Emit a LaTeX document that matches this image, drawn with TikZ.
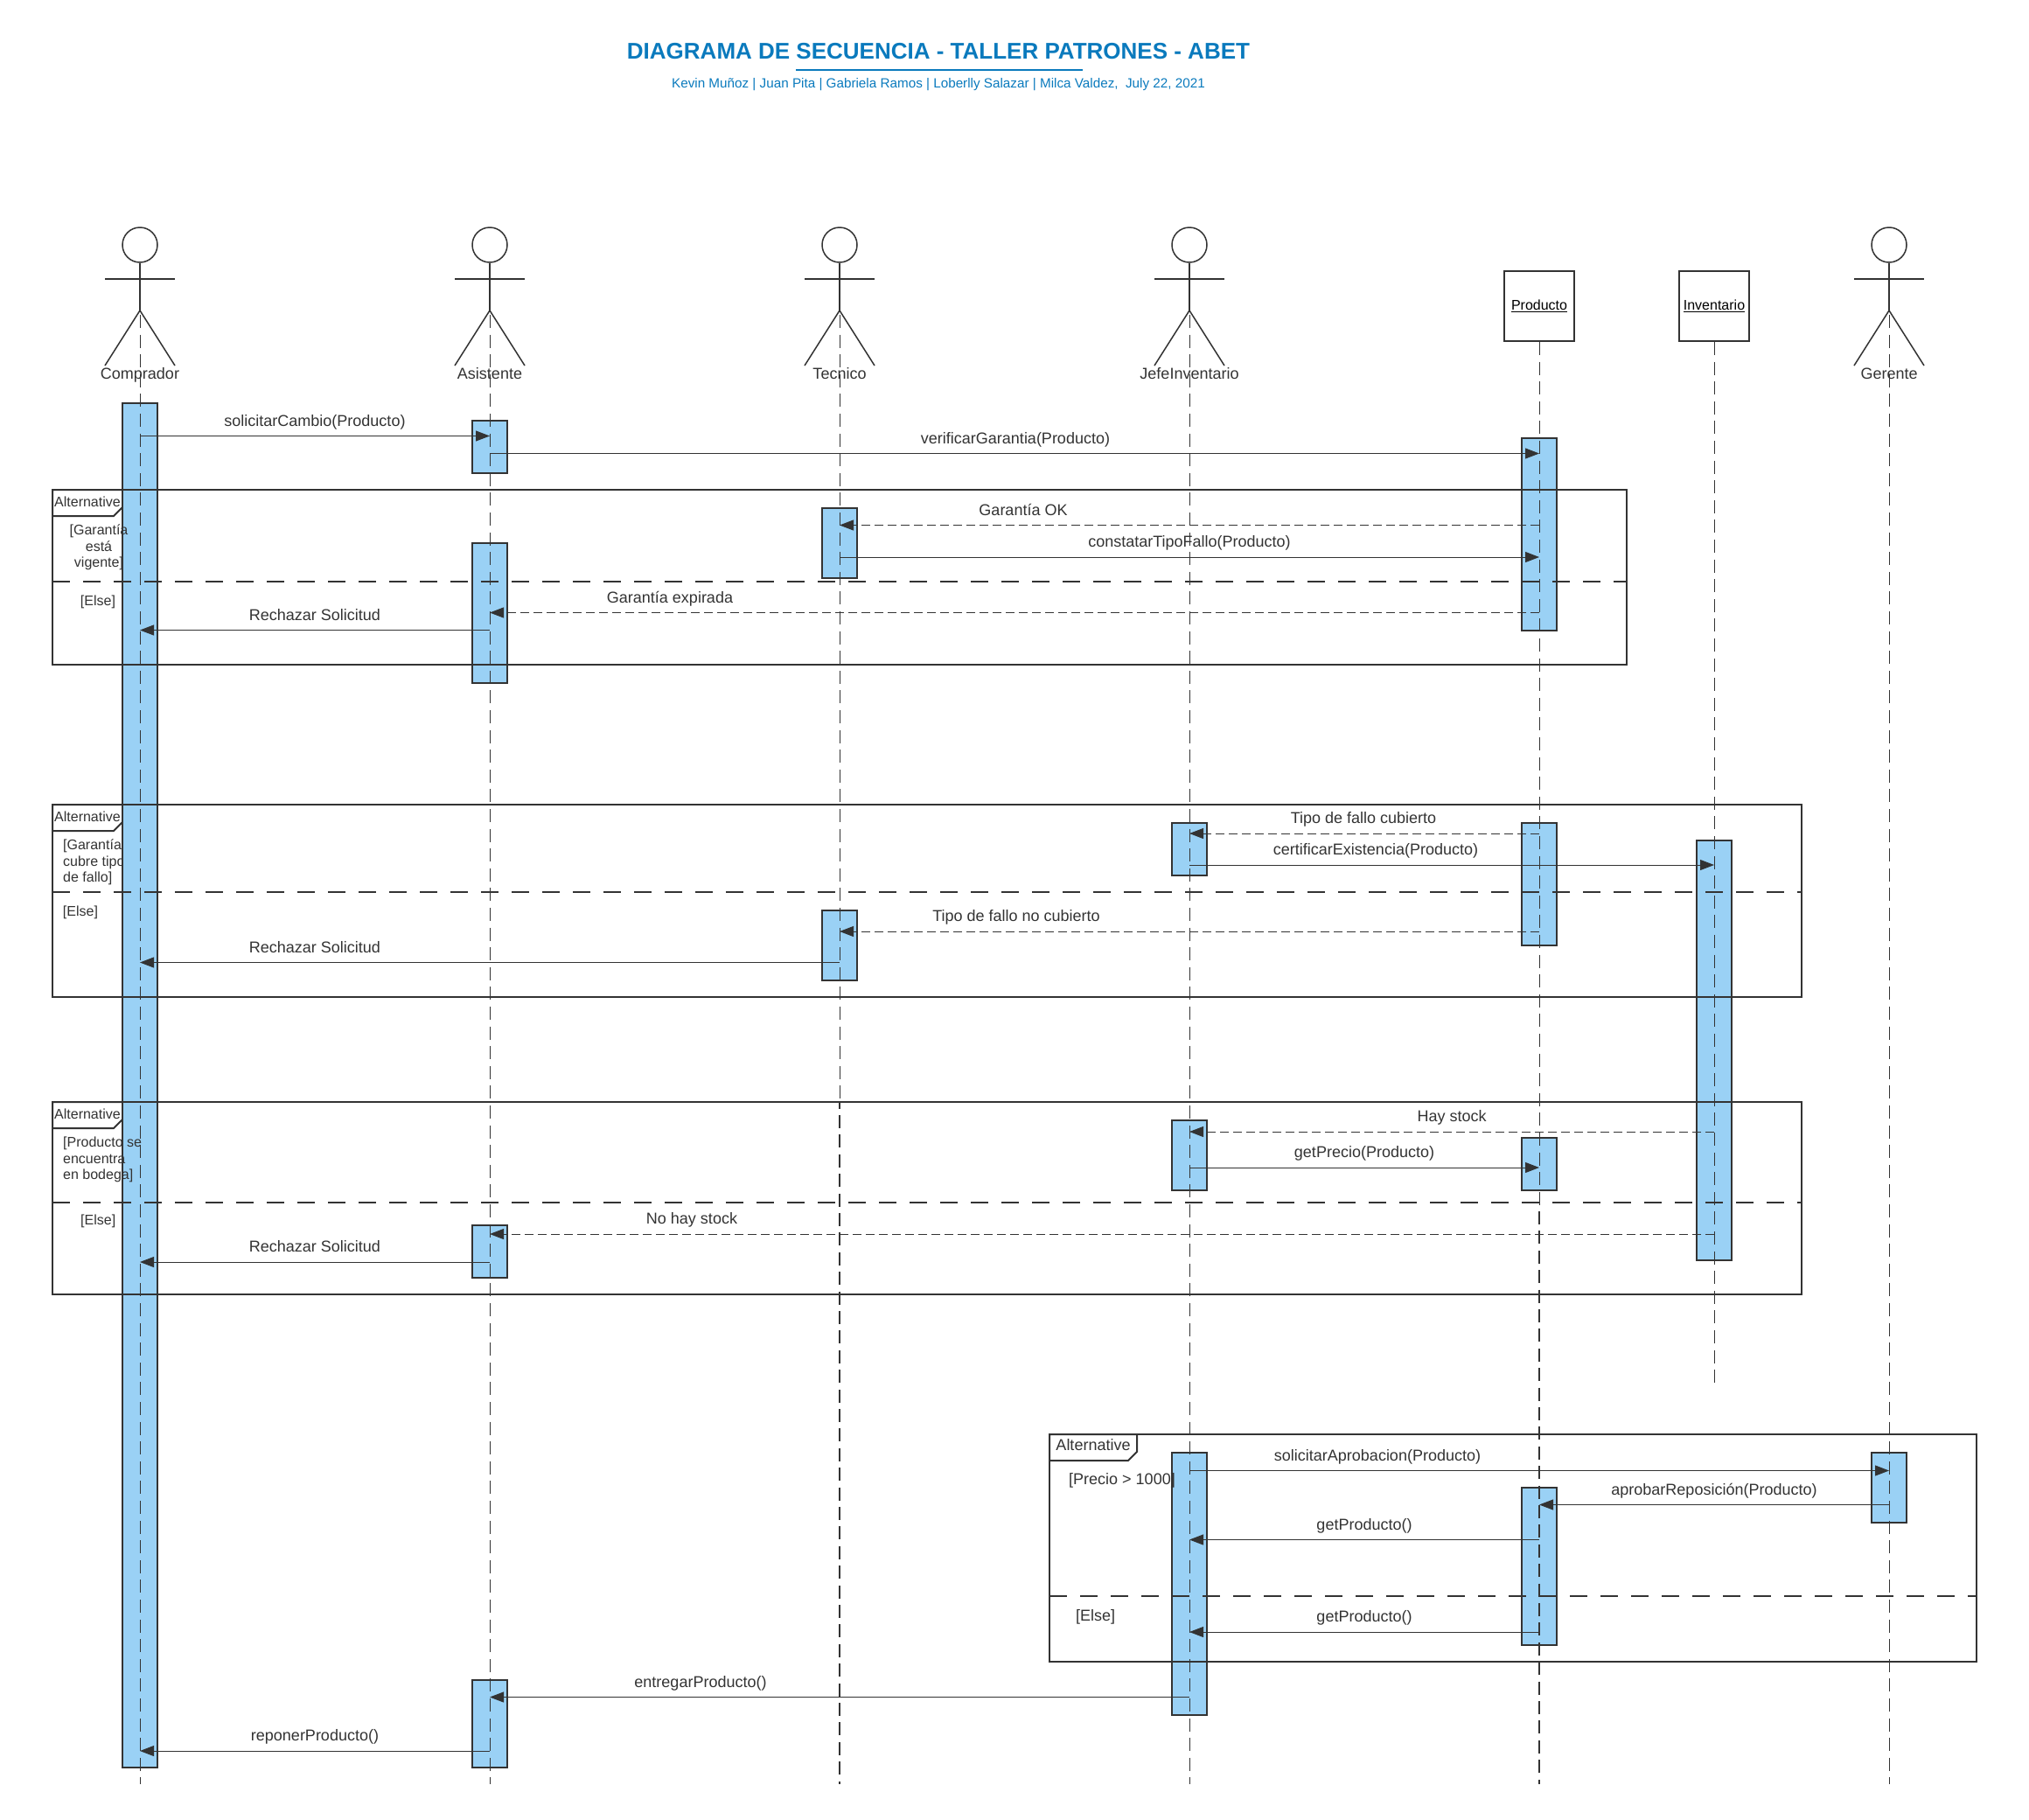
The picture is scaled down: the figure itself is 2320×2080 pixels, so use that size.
\documentclass[tikz,border=0pt]{standalone}
\usepackage{fontspec}
\setmainfont{Liberation Sans}
\usetikzlibrary{positioning, calc, arrows.meta}
\definecolor{ink}{HTML}{333333}
\definecolor{barfill}{HTML}{9AD1F5}
\definecolor{titleblue}{HTML}{0A7ABD}

\begin{document}
\begin{tikzpicture}[
    x=1pt, y=-1pt,
    >={Triangle[length=16pt,width=12pt]},
    every node/.style={text=ink, inner sep=0pt},
    figure/.style={draw=ink, line width=1.5pt},
    head/.style={figure, circle, minimum size=40pt},
    objbox/.style={draw=ink, line width=2pt, fill=white, minimum size=80pt, text=black, font=\fontsize{16}{18}\selectfont},
    namelabel/.style={font=\fontsize{18}{21}\selectfont, text height=13pt, text depth=4pt},
    lifeline/.style={draw=ink, line width=1pt, dash pattern=on 15pt off 7.6pt},
    lifelinebold/.style={draw=ink, line width=2pt, dash pattern=on 15pt off 7.4pt, dash phase=7.5pt},
    bar/.style={draw=ink, line width=2pt, fill=barfill, minimum width=40pt, anchor=north},
    frameline/.style={draw=ink, line width=2pt},
    framedash/.style={draw=ink, line width=2pt, dash pattern=on 20pt off 15pt},
    tab/.style={draw=ink, line width=2pt, fill=white},
    tablabel/.style={font=\fontsize{16}{18}\selectfont},
    guard/.style={font=\fontsize{16}{18.5}\selectfont},
    call/.style={draw=ink, line width=1pt, ->},
    reply/.style={draw=ink, line width=1pt, ->, dash pattern=on 10pt off 5pt},
    msglabel/.style={font=\fontsize{18}{21}\selectfont, text height=13pt, text depth=4pt}
]
\useasboundingbox (0,0) rectangle (2320,2080);

% titulo
\node[font=\bfseries\fontsize{26}{31}\selectfont, text=titleblue] (title) at (1073,59) {DIAGRAMA DE SECUENCIA - TALLER PATRONES - ABET};
\coordinate (ruleL) at (910,80);
\coordinate (ruleR) at (1238,80);
\draw[titleblue, line width=2pt] (ruleL) -- (ruleR);
\node[font=\fontsize{15.25}{18}\selectfont, text=titleblue] (subtitle) at (1073,96.5) {Kevin Muñoz | Juan Pita | Gabriela Ramos | Loberlly Salazar | Milca Valdez,\ \ July 22, 2021};

% actores
\foreach \n/\x/\t in {comprador/160/Comprador, asistente/560/Asistente, tecnico/960/Tecnico, jefe/1360/JefeInventario, gerente/2160/Gerente}{
    \node[head] (\n head) at (\x,280) {};
    \coordinate (\n hip) at (\x,355);
    \coordinate (\n) at (\x,360);
    \draw[figure] (\n head.south) -- (\n hip);
    \draw[figure] (\x-40,319) -- (\x+40,319);
    \draw[figure] (\x-40,418) -- (\n hip) -- (\x+40,418);
    \node[namelabel] (\n name) at (\x,428.5) {\t};
}

% objetos
\node[objbox] (producto) at (1760,350) {\raisebox{3pt}{\underline{Producto}}};
\node[objbox] (inventario) at (1960,350) {\raisebox{3pt}{\underline{Inventario}}};

% fragmentos, pestanas
\foreach \n/\l/\t/\w in {fa/60/560/80, fb/60/920/80, fc/60/1260/80, fd/1200/1640/100}{
    \draw[tab] (\l,\t) -- (\l+\w,\t) -- (\l+\w,\t+20) -- (\l+\w-10,\t+30) -- (\l,\t+30) -- cycle;
}
\node[guard, anchor=west, align=left] (guardB) at (72,986) {[Garantía\\cubre tipo\\de fallo]};

% barras de activacion
\foreach \n/\c/\t/\h in {
    ba/comprador/460/1560, bb/asistente/480/60, bc/asistente/620/160, bd/asistente/1400/60, be/asistente/1920/100,
    bf/tecnico/580/80, bg/tecnico/1040/80, bh/jefe/940/60, bi/jefe/1280/80, bj/jefe/1660/300,
    bk/producto/500/220, bl/producto/940/140, bm/producto/1300/60, bn/producto/1700/180,
    bo/inventario/960/480, bp/gerente/1660/80}{
    \node[bar, minimum height=\h pt] (\n) at (\c|-0,\t) {};
}

% marcos
\foreach \n/\l/\t/\r/\b/\d in {fa/60/560/1860/760/665, fb/60/920/2060/1140/1020, fc/60/1260/2060/1480/1375, fd/1200/1640/2260/1900/1825}{
    \coordinate (\n nw) at (\l,\t);
    \coordinate (\n se) at (\r,\b);
    \coordinate (\n dl) at (\l,\d);
    \coordinate (\n dr) at (\r,\d);
    \draw[frameline] (\n nw) rectangle (\n se);
    \draw[framedash] (\n dl) -- (\n dr);
}

% lineas de vida
\coordinate (compradorEnd) at (160,2040);
\coordinate (asistenteEnd) at (560,2040);
\coordinate (tecnicoMid) at (960,1260);
\coordinate (tecnicoEnd) at (960,2040);
\coordinate (jefeEnd) at (1360,2040);
\coordinate (productoMid) at (1760,1385);
\coordinate (productoEnd) at (1760,2040);
\coordinate (inventarioEnd) at (1960,1582);
\coordinate (gerenteEnd) at (2160,2040);
\draw[lifeline] (comprador) -- (compradorEnd);
\draw[lifeline] (asistente) -- (asistenteEnd);
\draw[lifeline] (tecnico) -- (tecnicoMid);
\draw[lifelinebold] (tecnicoMid) -- (tecnicoEnd);
\draw[lifeline] (jefe) -- (jefeEnd);
\draw[lifeline] (producto) -- (productoMid);
\draw[lifelinebold, dash phase=0pt] (productoMid) -- (productoEnd);
\draw[lifeline] (inventario) -- (inventarioEnd);
\draw[lifeline] (gerente) -- (gerenteEnd);

% mensajes
\foreach \n/\s/\a/\b/\y/\lx/\t in {
    ma/call/comprador/asistente/498.5/360/solicitarCambio(Producto),
    mb/call/asistente/producto/518.5/1161/verificarGarantia(Producto),
    mc/reply/producto/tecnico/600.5/1170/Garantía OK,
    md/call/tecnico/producto/637/1360/constatarTipoFallo(Producto),
    me/reply/producto/asistente/700.5/766/Garantía expirada,
    mf/call/asistente/comprador/720.5/360/Rechazar Solicitud,
    mg/reply/producto/jefe/953/1559/Tipo de fallo cubierto,
    mh/call/jefe/inventario/989/1573/certificarExistencia(Producto),
    mi/reply/producto/tecnico/1065/1162/Tipo de fallo no cubierto,
    mj/call/tecnico/comprador/1100.5/360/Rechazar Solicitud,
    mk/reply/inventario/jefe/1294/1660/Hay stock,
    ml/call/jefe/producto/1335/1560/getPrecio(Producto),
    mm/reply/inventario/asistente/1411/791/No hay stock,
    mn/call/asistente/comprador/1443/360/Rechazar Solicitud,
    mo/call/jefe/gerente/1681.5/1575/solicitarAprobacion(Producto),
    mp/call/gerente/producto/1720.5/1960/aprobarReposición(Producto),
    mq/call/producto/jefe/1760.5/1560/getProducto(),
    mr/call/producto/jefe/1866/1560/getProducto(),
    ms/call/jefe/asistente/1940.5/801/entregarProducto(),
    mt/call/asistente/comprador/2002/360/reponerProducto()}{
    \coordinate (\n a) at (\a|-0,\y);
    \coordinate (\n b) at (\b|-0,\y);
    \draw[\s] (\n a) -- (\n b);
    \node[msglabel] (\n label) at (\lx,\y-16) {\t};
}

% textos de los marcos
\node[tablabel] (tabA) at (100,574) {Alternative};
\node[tablabel] (tabB) at (100,934) {Alternative};
\node[tablabel] (tabC) at (100,1274) {Alternative};
\node[namelabel] (tabD) at (1250,1654) {Alternative};
\node[guard, align=center] (guardA) at (113,626) {[Garantía\\está\\vigente]};
\node[guard] (elseA) at (112,688) {[Else]};
\node[guard] (elseB) at (92,1043) {[Else]};
\node[guard, anchor=west, align=left] (guardC) at (72,1326) {[Producto se\\encuentra\\en bodega]};
\node[guard, anchor=west] (elseC) at (92,1396) {[Else]};
\node[namelabel, anchor=west] (guardD) at (1222,1693) {[Precio > 1000]};
\node[namelabel, anchor=west] (elseD) at (1230,1849) {[Else]};

\end{tikzpicture}
\end{document}
